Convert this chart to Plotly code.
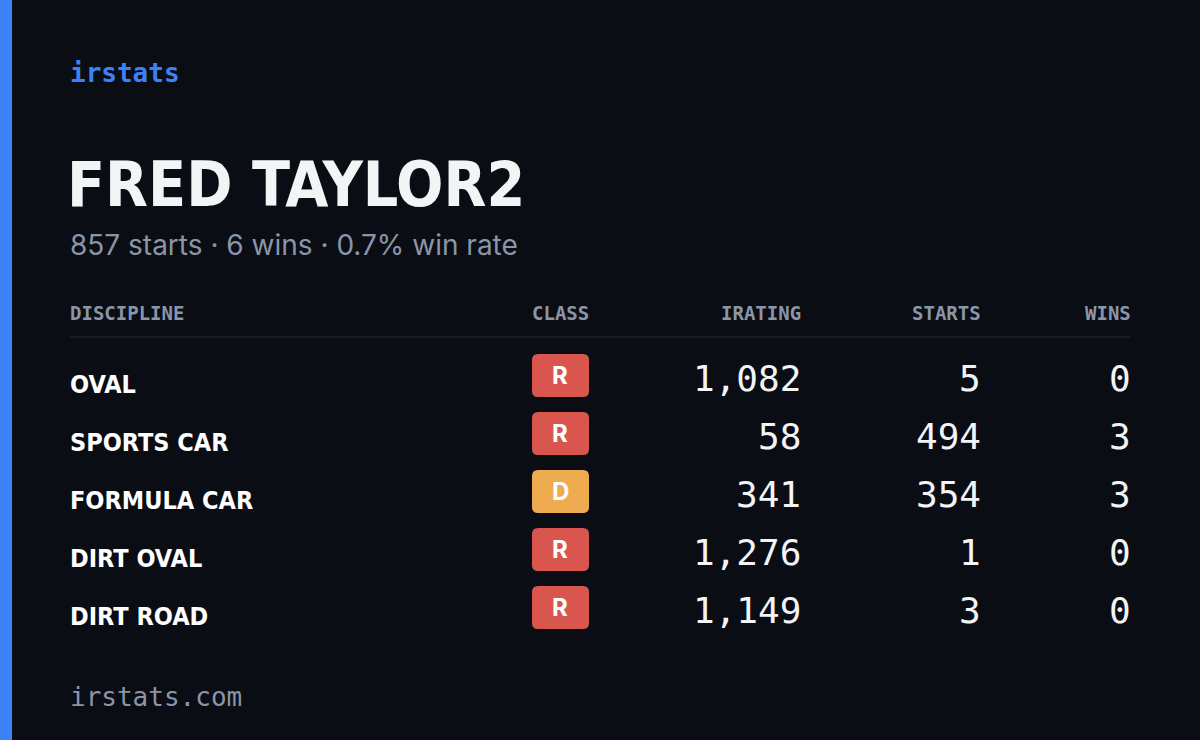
import plotly.graph_objects as go

disciplines = ["OVAL", "SPORTS CAR", "FORMULA CAR", "DIRT OVAL", "DIRT ROAD"]
classes = ["R", "R", "D", "R", "R"]
iratings = [1082, 58, 341, 1276, 1149]
starts = [5, 494, 354, 1, 3]
wins = [0, 3, 3, 0, 0]
headers = ["DISCIPLINE", "CLASS", "IRATING", "STARTS", "WINS"]
driver = "FRED TAYLOR2"
total_starts, total_wins, win_rate = 857, 6, 0.7

class_colors = {"R": "#d9564f", "D": "#eeab4f"}
BG = "#0a0d14"
GRAY = "#8b95a8"
MONO = "DejaVu Sans Mono"
COND = "DejaVu Sans Condensed, DejaVu Sans"

fig = go.Figure()
shapes = [dict(type="rect", x0=0, x1=12, y0=0, y1=740, fillcolor="#3b82f6", line_width=0, layer="below"),
          dict(type="line", x0=70, x1=1130, y0=337, y1=337, line=dict(color="#1c212c", width=1.5))]
ann = []
def A(x, y, t, size, color, font, xa="left", bold=False):
    ann.append(dict(x=x, y=y, text=(f"<b>{t}</b>" if bold else t), xref="x", yref="y", showarrow=False,
                    xanchor=xa, yanchor="middle", borderpad=0,
                    font=dict(size=size, color=color, family=font)))

A(69, 73, "irstats", 26, "#3b82f6", MONO, bold=True)
A(66, 184, driver, 62, "#f3f4f6", COND, bold=True)
A(69, 245, f"{total_starts} starts · {total_wins} wins · {win_rate}% win rate", 28, GRAY, "Inter")
hx = [(69, "left"), (560, "center"), (802, "right"), (982, "right"), (1132, "right")]
for (x, xa), h in zip(hx, headers):
    A(x, 313, h, 19, GRAY, MONO, xa, bold=True)

def rrect(x0, y0, x1, y1, r):
    return (f"M{x0+r},{y0} L{x1-r},{y0} Q{x1},{y0} {x1},{y0+r} L{x1},{y1-r} Q{x1},{y1} {x1-r},{y1} "
            f"L{x0+r},{y1} Q{x0},{y1} {x0},{y1-r} L{x0},{y0+r} Q{x0},{y0} {x0+r},{y0} Z")

for i, d in enumerate(disciplines):
    y = 378 + 58 * i
    A(69, y + 6, d, 25, "#ffffff", COND, bold=True)
    shapes.append(dict(type="path", path=rrect(532, y - 24, 589, y + 19, 6),
                       fillcolor=class_colors[classes[i]], line_width=0))
    A(560, y - 3, classes[i], 24, "#ffffff", "Inter", "center", bold=True)
    A(802, y, f"{iratings[i]:,}", 36, "#f3f4f6", MONO, "right")
    A(982, y, f"{starts[i]:,}", 36, "#f3f4f6", MONO, "right")
    A(1132, y, f"{wins[i]:,}", 36, "#f3f4f6", MONO, "right")

A(69, 697, "irstats.com", 26, GRAY, MONO)

fig.update_layout(width=1200, height=740, margin=dict(l=0, r=0, t=0, b=0),
                  paper_bgcolor=BG, plot_bgcolor=BG, shapes=shapes, annotations=ann,
                  xaxis=dict(range=[0, 1200], visible=False, fixedrange=True),
                  yaxis=dict(range=[740, 0], visible=False, fixedrange=True), showlegend=False)
fig.write_html("out.html", config={"displayModeBar": False},
               post_script="document.body.style.margin='0';document.body.style.background='#0a0d14';")
